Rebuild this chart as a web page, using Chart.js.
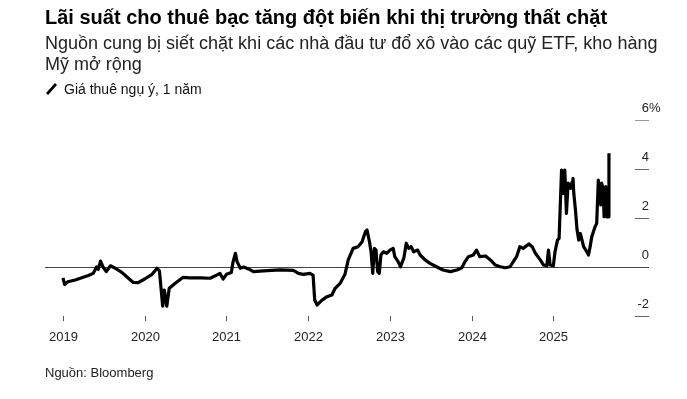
<!DOCTYPE html>
<html>
<head>
<meta charset="utf-8">
<script src="https://cdn.jsdelivr.net/npm/chart.js@4"></script>
<style>
  body { margin: 0; background: #fff; font-family: "Liberation Sans", Arial, sans-serif; }
  #wrap { position: relative; width: 687px; height: 399px; overflow: hidden; }
  canvas { position: absolute; left: 0; top: 0; }
  .title { position: absolute; left: 45px; top: 6px; font-size: 20px; font-weight: bold; color: #000; white-space: nowrap; }
  .sub { position: absolute; left: 45px; top: 33px; font-size: 18px; line-height: 20.7px; color: #222; white-space: nowrap; }
  .legend { position: absolute; left: 46px; top: 81px; font-size: 14px; line-height: 16px; color: #111; white-space: nowrap; }
  .legend .mark { display: inline-block; width: 11px; height: 12px; vertical-align: -1px; margin-right: 7px; }
  .source { position: absolute; left: 45px; top: 365px; font-size: 13px; color: #222; }
</style>
</head>
<body>
<div id="wrap">
  <canvas id="chart" width="687" height="399"></canvas>
  <div class="title">Lãi suất cho thuê bạc tăng đột biến khi thị trường thất chặt</div>
  <div class="sub">Nguồn cung bị siết chặt khi các nhà đầu tư đổ xô vào các quỹ ETF, kho hàng<br>Mỹ mở rộng</div>
  <div class="legend"><svg class="mark" viewBox="0 0 11 12"><line x1="1" y1="11" x2="10" y2="1" stroke="#000" stroke-width="2.8"/></svg>Giá thuê ngụ ý, 1 năm</div>
  <div class="source">Nguồn: Bloomberg</div>
</div>
<script>
// ===== Data (decimal year, % lease rate) =====
const dates = [
  2019.00, 2019.02, 2019.06, 2019.15, 2019.23, 2019.31, 2019.37, 2019.41, 2019.43, 2019.46,
  2019.49, 2019.53, 2019.58, 2019.64, 2019.72, 2019.78, 2019.86, 2019.92, 2020.00, 2020.09,
  2020.15, 2020.18, 2020.22, 2020.24, 2020.27, 2020.30, 2020.37, 2020.47, 2020.55, 2020.68,
  2020.80, 2020.88, 2020.92, 2020.96, 2021.00, 2021.06, 2021.08, 2021.11, 2021.13, 2021.17,
  2021.21, 2021.27, 2021.33, 2021.45, 2021.66, 2021.82, 2021.88, 2021.94, 2022.02, 2022.06,
  2022.08, 2022.11, 2022.17, 2022.23, 2022.29, 2022.33, 2022.39, 2022.45, 2022.49, 2022.55,
  2022.61, 2022.66, 2022.70, 2022.72, 2022.75, 2022.77, 2022.79, 2022.81, 2022.83, 2022.85,
  2022.87, 2022.89, 2022.92, 2022.96, 2023.00, 2023.04, 2023.06, 2023.10, 2023.13, 2023.17,
  2023.20, 2023.23, 2023.26, 2023.29, 2023.34, 2023.37, 2023.43, 2023.49, 2023.57, 2023.65,
  2023.74, 2023.82, 2023.88, 2023.92, 2023.96, 2024.02, 2024.06, 2024.10, 2024.17, 2024.23,
  2024.29, 2024.35, 2024.41, 2024.47, 2024.51, 2024.55, 2024.59, 2024.63, 2024.70, 2024.74,
  2024.78, 2024.84, 2024.88, 2024.92, 2024.94, 2024.96, 2025.00, 2025.02, 2025.05, 2025.07,
  2025.10, 2025.12, 2025.14, 2025.16, 2025.18, 2025.21, 2025.23, 2025.24, 2025.25, 2025.27,
  2025.29, 2025.31, 2025.33, 2025.37, 2025.41, 2025.43, 2025.45, 2025.47, 2025.51, 2025.53,
  2025.55, 2025.56, 2025.58, 2025.59, 2025.61, 2025.62, 2025.64, 2025.65, 2025.67, 2025.68
];
const rates = [
  -0.44, -0.71, -0.60, -0.53, -0.44, -0.35, -0.26, 0.00, -0.10, 0.24,
  0.00, -0.19, 0.05, -0.05, -0.22, -0.40, -0.63, -0.64, -0.49, -0.30,
  -0.05, -0.16, -1.60, -0.94, -1.60, -0.87, -0.67, -0.42, -0.44, -0.44,
  -0.46, -0.33, -0.26, -0.49, -0.30, -0.22, 0.20, 0.56, 0.22, -0.05,
  0.00, -0.08, -0.19, -0.16, -0.12, -0.14, -0.26, -0.30, -0.26, -0.33,
  -1.35, -1.55, -1.35, -1.21, -1.14, -0.87, -0.67, -0.30, 0.29, 0.76,
  0.83, 1.03, 1.44, 1.51, 1.03, 0.60, -0.26, 0.76, 0.69, -0.19,
  -0.26, 0.49, 0.62, 0.56, 0.69, 0.76, 0.42, 0.22, 0.01, 0.36,
  0.97, 0.76, 0.83, 0.62, 0.69, 0.49, 0.29, 0.15, 0.01, -0.12,
  -0.19, -0.12, -0.03, 0.22, 0.42, 0.49, 0.69, 0.42, 0.45, 0.29,
  0.08, 0.01, -0.03, 0.01, 0.22, 0.42, 0.83, 0.76, 0.94, 0.83,
  0.56, 0.29, 0.08, 0.05, 0.69, 0.08, 0.05, 0.62, 1.10, 1.17,
  3.96, 3.00, 3.96, 2.19, 3.42, 3.21, 3.48, 3.62, 3.00, 2.33,
  1.51, 1.10, 1.37, 0.83, 0.62, 0.49, 0.83, 1.24, 1.64, 1.78,
  3.55, 3.14, 2.53, 3.42, 3.20, 2.05, 3.28, 2.05, 2.05, 4.64
];
const yearTicks = [2019, 2020, 2021, 2022, 2023, 2024, 2025];
const valueTicks = [-2, 0, 2, 4, 6];

// ===== Axis drawing (tick marks + labels from the scales) =====
const axisPlugin = {
  id: 'axisMarks',
  beforeDatasetsDraw(chart) {
    const { ctx, chartArea, scales: { y } } = chart;
    ctx.save();
    // zero line
    const y0 = Math.round(y.getPixelForValue(0)) + 0.5;
    ctx.strokeStyle = '#444';
    ctx.lineWidth = 1;
    ctx.beginPath();
    ctx.moveTo(chartArea.left, y0);
    ctx.lineTo(chartArea.right, y0);
    ctx.stroke();
    ctx.restore();
  },
  afterDraw(chart) {
    const { ctx, chartArea, scales: { x, y } } = chart;
    ctx.save();
    ctx.font = '13px "Liberation Sans", Arial, sans-serif';
    ctx.fillStyle = '#222';
    ctx.lineWidth = 1;
    // y ticks on the right
    valueTicks.forEach(v => {
      const py = Math.round(y.getPixelForValue(v)) + 0.5;
      if (v !== 0) {
        ctx.strokeStyle = v === 6 ? '#999' : '#666';
        ctx.beginPath();
        ctx.moveTo(chartArea.right - 14, py);
        ctx.lineTo(chartArea.right, py);
        ctx.stroke();
      }
      ctx.textAlign = 'right';
      ctx.textBaseline = 'alphabetic';
      ctx.fillText(String(v), chartArea.right, py - 8.5);
      if (v === 6) {
        ctx.textAlign = 'left';
        ctx.fillText('%', chartArea.right, py - 8.5);
      }
    });
    // x ticks
    yearTicks.forEach(yr => {
      const px = Math.round(x.getPixelForValue(yr)) + 0.5;
      ctx.strokeStyle = '#555';
      ctx.beginPath();
      ctx.moveTo(px, chartArea.bottom);
      ctx.lineTo(px, chartArea.bottom + 5);
      ctx.stroke();
      ctx.textAlign = 'center';
      ctx.textBaseline = 'alphabetic';
      ctx.fillText(String(yr), px, chartArea.bottom + 24.5);
    });
    ctx.restore();
  }
};

new Chart(document.getElementById('chart'), {
  type: 'line',
  data: {
    datasets: [{
      data: dates.map((d, i) => ({ x: d, y: rates[i] })),
      borderColor: '#000',
      borderWidth: 3.2,
      pointRadius: 0,
      tension: 0,
      borderJoinStyle: 'round'
    }]
  },
  options: {
    responsive: false,
    animation: false,
    layout: { padding: { left: 45, right: 38, top: 120, bottom: 83 } },
    plugins: { legend: { display: false }, tooltip: { enabled: false } },
    scales: {
      x: { type: 'linear', display: false, min: 2018.78, max: 2026.17 },
      y: { display: false, min: -2, max: 6 }
    }
  },
  plugins: [axisPlugin]
});
</script>
</body>
</html>
